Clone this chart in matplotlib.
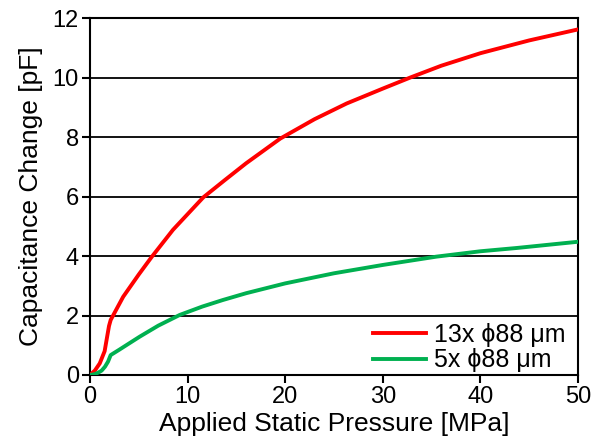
import matplotlib
matplotlib.use("Agg")
import matplotlib.pyplot as plt

plt.rcParams['font.family'] = ['Liberation Sans', 'DejaVu Sans']

red_x = [0, 0.5, 1.0, 1.5, 1.7, 1.95, 2.12, 3.4, 5, 6.3, 8.5, 11.6, 13.8, 16, 19.5, 23, 26.3, 30, 32.8, 36, 40, 45, 50]
red_y = [0, 0.15, 0.39, 0.8, 1.18, 1.65, 1.85, 2.63, 3.38, 3.96, 4.88, 5.97, 6.55, 7.12, 7.95, 8.6, 9.13, 9.63, 10.0, 10.4, 10.82, 11.25, 11.62]

green_x = [0, 0.5, 0.85, 1.2, 1.54, 1.85, 2.12, 3, 4, 5.1, 7, 9.2, 11.5, 13.6, 16, 20, 25, 30, 35.5, 40, 43.7, 50]
green_y = [0, 0.03, 0.08, 0.15, 0.28, 0.45, 0.67, 0.85, 1.06, 1.29, 1.66, 2.02, 2.3, 2.52, 2.75, 3.08, 3.42, 3.7, 3.98, 4.16, 4.27, 4.48]

labels = ["13x \u03d588 \u03bcm", "5x \u03d588 \u03bcm"]

fig = plt.figure(figsize=(5.94, 4.42), dpi=100)
ax = fig.add_axes([0.1515, 0.1516, 0.8215, 0.8074])

ax.plot(red_x, red_y, color='#ff0000', lw=2.8, label=labels[0], zorder=3,
        solid_joinstyle='round')
ax.plot(green_x, green_y, color='#00b050', lw=2.8, label=labels[1], zorder=3,
        solid_joinstyle='round')

ax.set_xlim(0, 50)
ax.set_ylim(0, 12)
ax.set_xticks(range(0, 51, 10))
ax.set_yticks(range(0, 13, 2))
for y in range(2, 13, 2):
    ax.axhline(y, color='black', lw=1.3, zorder=1)
for s in ax.spines.values():
    s.set_linewidth(1.5)
ax.tick_params(direction='out', length=6, width=1.5, labelsize=17, pad=2)
ax.set_xlabel('Applied Static Pressure [MPa]', fontsize=19, labelpad=3)
ax.set_ylabel('Capacitance Change [pF]', fontsize=19, labelpad=7)

leg = ax.legend(loc='lower right', bbox_to_anchor=(0.975, 0.007), frameon=False,
                fontsize=18, handlelength=2.1, borderaxespad=0, borderpad=0,
                labelspacing=0.05, handletextpad=0.35)

fig.savefig('out.png', dpi=100)
